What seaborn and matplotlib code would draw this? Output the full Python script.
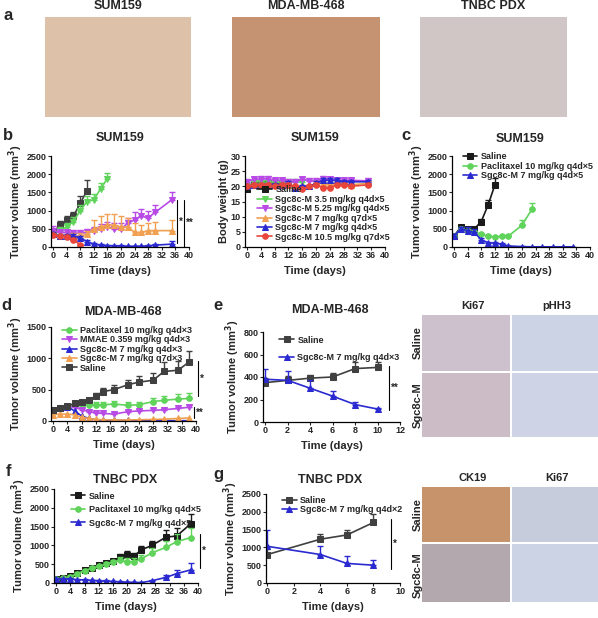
import numpy as np
import pandas as pd
import matplotlib
matplotlib.use("Agg")
import matplotlib.pyplot as plt
import seaborn as sns

sns.set_theme(style="ticks")
plt.rcParams['font.family'] = ['Liberation Sans', 'DejaVu Sans']
plt.rcParams['font.weight'] = 'bold'
plt.rcParams['axes.labelweight'] = 'bold'
plt.rcParams['axes.titleweight'] = 'bold'

BLACK = '#1a1a1a'; GRAY = '#404040'; GREEN = '#5fd35a'; PURPLE = '#b84be6'
ORANGE = '#f0a050'; BLUE = '#2a2ad0'; RED = '#e8463a'

# ---- panel b (tumor volume)
b_saline_d = [0, 2, 4, 6, 8, 10]
b_saline_v = [400, 600, 750, 850, 1200, 1550]
b_saline_e = [100, 120, 100, 120, 200, 300]
b_g_d = [0, 2, 4, 6, 8, 10, 12, 14, 16]
b_g_v = [350, 450, 550, 700, 1000, 1250, 1300, 1600, 1880]
b_g_e = [80, 100, 100, 120, 150, 150, 150, 150, 150]
b_p_d = [0, 2, 4, 6, 8, 10, 12, 14, 16, 18, 20, 22, 24, 26, 28, 30, 35]
b_p_v = [450, 400, 400, 380, 380, 400, 450, 500, 550, 500, 500, 650, 750, 850, 800, 950, 1300]
b_p_e = [120, 80, 80, 80, 80, 100, 100, 120, 150, 150, 150, 150, 200, 200, 200, 200, 220]
b_o_d = [0, 2, 4, 6, 8, 10, 12, 14, 16, 18, 20, 22, 24, 26, 28, 30, 35]
b_o_v = [350, 300, 300, 300, 300, 350, 500, 550, 600, 600, 550, 550, 400, 400, 450, 450, 450]
b_o_e = [60, 60, 60, 80, 80, 100, 250, 300, 300, 300, 300, 250, 250, 200, 200, 250, 300]
b_b_d = [0, 2, 4, 6, 8, 10, 12, 14, 16, 18, 20, 22, 24, 26, 28, 30, 35]
b_b_v = [350, 300, 300, 300, 250, 150, 80, 50, 40, 30, 30, 20, 20, 20, 30, 50, 80]
b_b_e = [60, 50, 50, 50, 50, 40, 30, 20, 20, 20, 20, 10, 10, 10, 20, 30, 80]
b_r_d = [0, 2, 4, 6, 8]
b_r_v = [320, 300, 280, 200, 60]
b_r_e = [50, 40, 40, 40, 30]

# ---- panel b (body weight)
w_saline_d = [0, 2, 4, 6, 8, 10]
w_saline_v = [19.2, 20.5, 20.8, 21.0, 20.5, 20.8]
w_g_d = [0, 2, 4, 6, 8, 10, 12, 14, 16]
w_g_v = [20.2, 21.0, 21.0, 21.2, 21.5, 21.2, 21.5, 21.5, 21.5]
w_p_d = [0, 2, 4, 6, 8, 10, 12, 14, 16, 18, 20, 22, 24, 26, 28, 30, 35]
w_p_v = [21.5, 22.3, 22.5, 22.5, 22.0, 22.0, 21.5, 21.5, 22.3, 21.8, 21.8, 22.5, 22.3, 22.0, 22.0, 22.0, 21.8]
w_o_d = [0, 2, 4, 6, 8, 10, 12, 14, 16, 18, 20, 22, 24, 26, 28, 30, 35]
w_o_v = [20.0, 20.5, 20.5, 20.5, 20.5, 20.5, 20.5, 20.0, 20.0, 20.0, 21.0, 21.0, 20.5, 21.0, 21.0, 20.5, 21.0]
w_b_d = [0, 2, 4, 6, 8, 10, 12, 14, 16, 18, 20, 22, 24, 26, 28, 30, 35]
w_b_v = [20.0, 20.5, 20.5, 20.5, 20.5, 20.5, 21.0, 19.5, 20.0, 20.0, 21.0, 22.0, 22.0, 22.0, 21.5, 21.5, 21.5]
w_r_d = [0, 2, 4, 6, 8, 10, 12, 14, 16, 18, 20, 22, 24, 26, 28, 30, 35]
w_r_v = [20.0, 20.5, 20.5, 20.5, 20.0, 20.5, 20.5, 20.0, 19.0, 20.0, 20.5, 19.5, 19.5, 20.5, 20.5, 20.0, 20.5]

# ---- panel c
c_s_d = [0, 2, 4, 6, 8, 10, 12]
c_s_v = [300, 550, 500, 500, 700, 1150, 1700]
c_s_e = [60, 50, 50, 60, 80, 150, 200]
c_g_d = [0, 2, 4, 6, 8, 10, 12, 14, 16, 20, 23]
c_g_v = [300, 500, 450, 400, 350, 300, 270, 300, 300, 600, 1050]
c_g_e = [60, 50, 50, 50, 40, 40, 40, 40, 40, 150, 150]
c_b_d = [0, 2, 4, 6, 8, 10, 12, 14, 16, 20, 23, 26, 29, 32, 35]
c_b_v = [300, 500, 450, 400, 200, 120, 100, 80, 30, 10, 5, 5, 5, 5, 5]
c_b_e = [60, 50, 100, 100, 50, 30, 30, 20, 10, 5, 5, 5, 5, 5, 5]

# ---- panel d
d_days = [0, 2, 4, 6, 8, 10, 12, 14, 17, 21, 24, 28, 31, 35, 38]
d_sal = [170, 200, 240, 280, 300, 330, 400, 470, 500, 580, 620, 650, 790, 810, 940]
d_sal_e = [30, 30, 30, 30, 30, 40, 50, 60, 70, 80, 100, 120, 150, 150, 180]
d_pac = [170, 200, 230, 260, 250, 250, 260, 260, 270, 250, 260, 310, 330, 350, 360]
d_pac_e = [30, 30, 30, 40, 40, 40, 50, 50, 50, 50, 50, 60, 70, 80, 90]
d_mmae = [170, 200, 230, 220, 180, 150, 130, 120, 110, 150, 160, 170, 180, 200, 220]
d_mmae_e = [30, 30, 30, 30, 30, 30, 30, 30, 30, 30, 30, 30, 30, 30, 30]
d_q4 = [170, 200, 230, 160, 80, 40, 20, 15, 10, 8, 5, 5, 5, 5, 5]
d_q7 = [100, 110, 110, 100, 60, 40, 25, 20, 15, 15, 20, 25, 30, 40, 50]

# ---- panel e
e_days = [0, 2, 4, 6, 8, 10]
e_sal = [350, 370, 390, 400, 475, 485]
e_sal_e = [40, 40, 30, 40, 60, 50]
e_sgc = [380, 370, 300, 230, 155, 115]
e_sgc_e = [90, 80, 70, 50, 20, 10]

# ---- panel f
f_days = [0, 2, 4, 6, 8, 10, 12, 14, 16, 18, 20, 22, 24, 27, 31, 34, 38]
f_sal = [100, 140, 180, 270, 350, 400, 470, 520, 580, 680, 750, 720, 880, 1000, 1220, 1250, 1580]
f_sal_e = [20, 30, 30, 40, 40, 50, 50, 60, 60, 80, 90, 90, 100, 120, 180, 200, 250]
f_pac = [100, 130, 170, 250, 330, 390, 440, 500, 560, 600, 570, 570, 640, 800, 950, 1100, 1210]
f_pac_e = [20, 30, 30, 40, 40, 50, 50, 60, 60, 80, 90, 90, 100, 120, 180, 200, 250]
f_sgc = [100, 110, 100, 90, 80, 70, 60, 50, 40, 30, 20, 15, 10, 60, 150, 250, 350]
f_sgc_e = [20, 20, 20, 20, 20, 20, 20, 20, 20, 15, 10, 10, 10, 30, 60, 100, 180]

# ---- panel g
g_days = [0, 4, 6, 8]
g_sal = [800, 1230, 1350, 1700]
g_sal_e = [150, 150, 150, 250]
g_sgc = [1030, 800, 550, 500]
g_sgc_e = [450, 250, 200, 150]

W, H = 598, 618
fig = plt.figure(figsize=(W / 100, H / 100), dpi=100)

def ax_px(l, t, r, b):
    return fig.add_axes([l / W, 1 - b / H, (r - l) / W, (b - t) / H])

FS = 6.5

def series(ax, d, v, e, color, marker, label, ms=4):
    df = pd.DataFrame({'d': d, 'v': v})
    sns.lineplot(data=df, x='d', y='v', ax=ax, color=color, marker=marker,
                 markersize=ms, markeredgecolor=color, lw=1.2, label=label)
    if e is not None:
        ax.errorbar(d, v, yerr=[np.zeros(len(e)), e], fmt='none', ecolor=color,
                    elinewidth=1, capsize=2)

def ftext(x, y, s, fs=9, **kw):
    fig.text(x / W, 1 - y / H, s, fontsize=fs, fontweight='bold', ha='center', va='center', **kw)

def style(ax, xlim, xticks, ylim, yticks, ylabel, xlabel='Time (days)'):
    ax.set_xlim(*xlim); ax.set_ylim(*ylim)
    ax.set_xticks(xticks); ax.set_yticks(yticks)
    ax.tick_params(labelsize=FS, length=2, width=0.8, pad=1)
    for s in ['top', 'right']:
        ax.spines[s].set_visible(False)
    for s in ['left', 'bottom']:
        ax.spines[s].set_linewidth(0.9)
        ax.spines[s].set_color('black')
    ax.set_xlabel(xlabel, fontsize=8, labelpad=4)
    ax.set_ylabel(ylabel, fontsize=8, labelpad=1)

def leg(ax, loc='upper left', bbox=None):
    ax.legend(loc=loc, bbox_to_anchor=bbox, fontsize=FS, frameon=False, handlelength=1.6,
              labelspacing=0.05, borderpad=0.1, handletextpad=0.4)

def letter(x, y, s):
    ftext(x, y, s, fs=12)

def sig(ax, x, y0, y1, txt, tx=None):
    ax.plot([x, x], [y0, y1], color='black', lw=0.8, clip_on=False)
    ax.text(tx if tx else x, (y0 + y1) / 2, txt, fontsize=7, ha='left', va='center')

def image(l, t, r, b, color):
    ax = ax_px(l, t, r, b)
    ax.imshow(np.array([[color]]), aspect='auto')
    ax.set_axis_off()
    return ax

TV = 'Tumor volume (mm$^3$)'

# a: images
letter(8, 16, 'a')
for (l, r, ttl, col) in [(45, 191, 'SUM159', (0.87, 0.76, 0.66)),
                         (232, 380, 'MDA-MB-468', (0.78, 0.58, 0.45)),
                         (420, 567, 'TNBC PDX', (0.82, 0.78, 0.78))]:
    image(l, 17, r, 117, col)
    ftext((l + r) / 2, 6, ttl)

# b1
letter(8, 135, 'b')
ftext(120, 138, 'SUM159')
ax = ax_px(51, 156, 189, 247)
series(ax, b_saline_d, b_saline_v, b_saline_e, GRAY, 's', None)
series(ax, b_g_d, b_g_v, b_g_e, GREEN, 'v', None)
series(ax, b_p_d, b_p_v, b_p_e, PURPLE, 'v', None)
series(ax, b_o_d, b_o_v, b_o_e, ORANGE, '^', None)
series(ax, b_b_d, b_b_v, b_b_e, BLUE, '^', None)
series(ax, b_r_d, b_r_v, b_r_e, RED, 'o', None)
style(ax, (-0.6, 40), range(0, 41, 4), (0, 2500), range(0, 2501, 500), TV)
sig(ax, 36.5, 100, 1300, '*', 37)
sig(ax, 38.5, 0, 1300, '**', 39)

# b2
ftext(315, 138, 'SUM159')
ax = ax_px(245, 156, 385, 247)
series(ax, w_saline_d, w_saline_v, [0.8] * 6, BLACK, 's', 'Saline')
series(ax, w_g_d, w_g_v, [0.8] * 9, GREEN, 'v', 'Sgc8c-M 3.5 mg/kg q4d×5')
series(ax, w_p_d, w_p_v, [0.8] * 17, PURPLE, 'v', 'Sgc8c-M 5.25 mg/kg q4d×5')
series(ax, w_o_d, w_o_v, [0.6] * 17, ORANGE, '^', 'Sgc8c-M 7 mg/kg q7d×5')
series(ax, w_b_d, w_b_v, [0.6] * 17, BLUE, '^', 'Sgc8c-M 7 mg/kg q4d×5')
series(ax, w_r_d, w_r_v, [0.6] * 17, RED, 'o', 'Sgc8c-M 10.5 mg/kg q7d×5')
style(ax, (-0.6, 40), range(0, 41, 4), (0, 30), range(0, 31, 5), 'Body weight (g)')
leg(ax, 'lower left', (0.05, 0.0))

# c
letter(406, 135, 'c')
ftext(520, 139, 'SUM159')
ax = ax_px(452, 156, 590, 247)
series(ax, c_s_d, c_s_v, c_s_e, BLACK, 's', 'Saline')
series(ax, c_g_d, c_g_v, c_g_e, GREEN, 'o', 'Paclitaxel 10 mg/kg q4d×5')
series(ax, c_b_d, c_b_v, c_b_e, BLUE, '^', 'Sgc8c-M 7 mg/kg q4d×5')
style(ax, (-0.6, 40), range(0, 41, 4), (0, 2500), range(0, 2501, 500), TV)
leg(ax, 'upper left', (0.04, 1.1))

# d
letter(6, 306, 'd')
ftext(123, 312, 'MDA-MB-468')
ax = ax_px(51, 327, 196, 421)
series(ax, d_days, d_pac, d_pac_e, GREEN, 'o', 'Paclitaxel 10 mg/kg q4d×3')
series(ax, d_days, d_mmae, d_mmae_e, PURPLE, 'v', 'MMAE 0.359 mg/kg q4d×3')
series(ax, d_days, d_q4, None, BLUE, '^', 'Sgc8c-M 7 mg/kg q4d×3')
series(ax, d_days, d_q7, None, ORANGE, '^', 'Sgc8c-M 7 mg/kg q7d×3')
series(ax, d_days, d_sal, d_sal_e, GRAY, 's', 'Saline')
style(ax, (-0.6, 40), range(0, 41, 4), (0, 1500), range(0, 1501, 500), TV)
leg(ax, 'upper left', (0.04, 1.07))
sig(ax, 40.5, 400, 950, '*', 41)
sig(ax, 39.5, 40, 220, '**', 40)

# e
letter(218, 305, 'e')
ftext(330, 310, 'MDA-MB-468')
ax = ax_px(263, 332, 400, 422)
series(ax, e_days, e_sal, e_sal_e, GRAY, 's', 'Saline')
series(ax, e_days, e_sgc, e_sgc_e, BLUE, '^', 'Sgc8c-M 7 mg/kg q4d×3')
style(ax, (-0.2, 12), range(0, 13, 2), (0, 800), range(0, 801, 200), TV)
ax.legend(loc='upper left', bbox_to_anchor=(0.08, 1.02), fontsize=FS, frameon=False,
          handlelength=1.6, labelspacing=0.9, borderpad=0.1, handletextpad=0.4)
sig(ax, 11, 110, 500, '**', 11.2)

# e images
ftext(473, 306, 'Ki67', fs=8)
ftext(557, 306, 'pHH3', fs=8)
image(422, 315, 510, 371, (0.80, 0.76, 0.80))
image(512, 315, 598, 371, (0.80, 0.83, 0.90))
image(422, 373, 510, 437, (0.80, 0.74, 0.78))
image(512, 373, 598, 437, (0.81, 0.83, 0.90))
ftext(418, 343, 'Saline', fs=8, rotation=90)
ftext(418, 405, 'Sgc8c-M', fs=8, rotation=90)

# f
letter(8, 472, 'f')
ftext(125, 480, 'TNBC PDX')
ax = ax_px(54, 489, 198, 583)
series(ax, f_days, f_sal, f_sal_e, BLACK, 's', 'Saline')
series(ax, f_days, f_pac, f_pac_e, GREEN, 'o', 'Paclitaxel 10 mg/kg q4d×5')
series(ax, f_days, f_sgc, f_sgc_e, BLUE, '^', 'Sgc8c-M 7 mg/kg q4d×5')
style(ax, (-0.6, 40), range(0, 41, 4), (0, 2500), range(0, 2501, 500), TV)
ax.legend(loc='upper left', bbox_to_anchor=(0.08, 1.03), fontsize=FS, frameon=False,
          handlelength=1.6, labelspacing=0.5, borderpad=0.1, handletextpad=0.4)
sig(ax, 40.5, 400, 1300, '*', 41)

# g
letter(218, 475, 'g')
ftext(330, 480, 'TNBC PDX')
ax = ax_px(266, 494, 400, 583)
series(ax, g_days, g_sal, g_sal_e, GRAY, 's', 'Saline')
series(ax, g_days, g_sgc, g_sgc_e, BLUE, '^', 'Sgc8c-M 7 mg/kg q4d×2')
style(ax, (-0.1, 10), range(0, 11, 2), (0, 2500), range(0, 2501, 500), TV)
leg(ax, 'upper left', (0.08, 1.04))
sig(ax, 9.3, 400, 1800, '*', 9.5)

ftext(473, 478, 'CK19', fs=8)
ftext(557, 478, 'Ki67', fs=8)
image(422, 487, 510, 542, (0.78, 0.58, 0.42))
image(512, 487, 598, 542, (0.78, 0.80, 0.86))
image(422, 544, 510, 602, (0.70, 0.66, 0.68))
image(512, 544, 598, 602, (0.80, 0.83, 0.90))
ftext(418, 515, 'Saline', fs=8, rotation=90)
ftext(418, 575, 'Sgc8c-M', fs=8, rotation=90)

fig.savefig('out.png', dpi=100)
